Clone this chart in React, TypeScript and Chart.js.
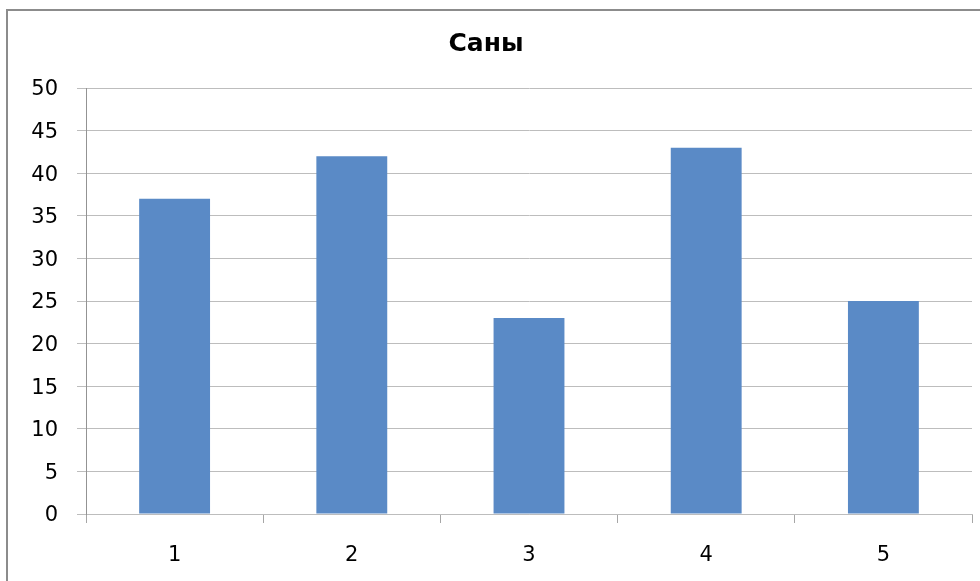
import React, { useEffect, useRef } from "react";
import { Chart, registerables } from "chart.js";

Chart.register(...registerables);

const categories = ["1", "2", "3", "4", "5"];
const values = [37, 42, 23, 43, 25];
const chartTitle = "Саны";
const yMin = 0;
const yMax = 50;
const yStep = 5;

export default function App() {
  const ref = useRef<HTMLCanvasElement | null>(null);

  useEffect(() => {
    if (!ref.current) return;
    const font = "'DejaVu Sans', Verdana, sans-serif";
    const chart = new Chart(ref.current, {
      type: "bar",
      data: {
        labels: categories,
        datasets: [
          {
            label: chartTitle,
            data: values,
            backgroundColor: "#5A8AC6",
            borderWidth: 0,
            barPercentage: 0.8,
            categoryPercentage: 0.5,
          },
        ],
      },
      options: {
        responsive: false,
        animation: false,
        maintainAspectRatio: false,
        layout: { padding: { left: 0, right: 8, top: 18, bottom: 0 } },
        plugins: {
          legend: { display: false },
          tooltip: { enabled: false },
          title: {
            display: true,
            text: chartTitle,
            color: "#000000",
            font: { family: font, size: 25, weight: "bold", lineHeight: 1.2 },
            padding: { top: 11, bottom: 29 },
          },
        },
        scales: {
          x: {
            offset: true,
            grid: {
              offset: true,
              drawOnChartArea: false,
              drawTicks: true,
              tickLength: 9,
              color: "#A6A6A6",
            },
            border: { color: "#BDBDBD", width: 1 },
            ticks: {
              color: "#000000",
              font: { family: font, size: 21 },
              padding: 20,
            },
            afterFit: (s: any) => {
              s.height = 67;
            },
          },
          y: {
            min: yMin,
            max: yMax,
            grid: {
              color: "#BDBDBD",
              tickLength: 9,
            },
            border: { color: "#939393", width: 1 },
            ticks: {
              stepSize: yStep,
              color: "#000000",
              font: { family: font, size: 21 },
              padding: 19,
              labelOffset: 2,
            },
            afterFit: (s: any) => {
              s.width = 86;
            },
          },
        },
      },
    });
    return () => chart.destroy();
  }, []);

  return (
    <div style={{ position: "fixed", left: 0, top: 0, width: 980, height: 581, background: "#fff", overflow: "hidden" }}>
      <div
        style={{
          position: "absolute",
          left: 6,
          top: 9,
          width: 1000,
          height: 600,
          border: "2px solid #8C8C8C",
          boxSizing: "border-box",
        }}
      />
      <canvas ref={ref} width={980} height={581} style={{ position: "absolute", left: 0, top: 0 }} />
    </div>
  );
}
